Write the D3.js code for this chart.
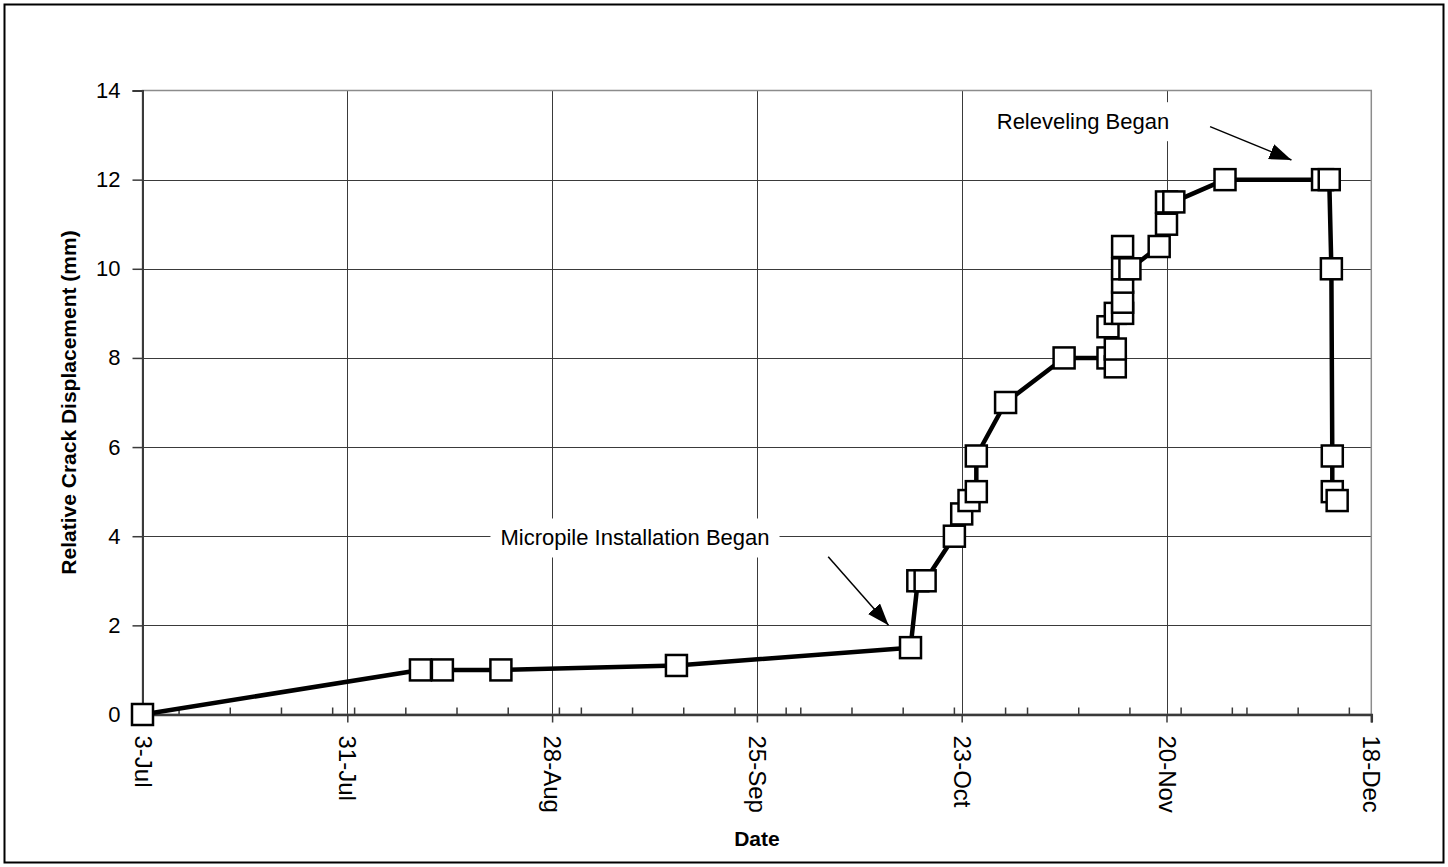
<!DOCTYPE html>
<html>
<head>
<meta charset="utf-8">
<script src="https://cdn.jsdelivr.net/npm/d3@7"></script>
<style>
    body { margin: 0; background: #fff; }
    svg { display: block; font-family: "Liberation Sans", Arial, sans-serif; }
</style>
</head>
<body>
<svg id="chart" width="1448" height="867"></svg>
<script>
// readings, in the order they were logged
var readDates = [
    "2001-07-03 00:00", "2001-08-10 00:00", "2001-08-13 00:00", "2001-08-21 00:00",
    "2001-09-14 00:00", "2001-10-16 00:00", "2001-10-17 00:00", "2001-10-18 00:00",
    "2001-10-22 00:00", "2001-10-23 00:00", "2001-10-24 00:00", "2001-10-25 00:00",
    "2001-10-25 00:00", "2001-10-29 00:00", "2001-11-06 00:00", "2001-11-12 00:00",
    "2001-11-13 00:00", "2001-11-13 00:00", "2001-11-12 00:00", "2001-11-13 00:00",
    "2001-11-14 00:00", "2001-11-14 00:00", "2001-11-14 00:00", "2001-11-14 00:00",
    "2001-11-14 00:00", "2001-11-15 00:00", "2001-11-19 00:00", "2001-11-20 00:00",
    "2001-11-20 00:00", "2001-11-21 00:00", "2001-11-28 00:00", "2001-12-11 08:00",
    "2001-12-12 06:00", "2001-12-12 13:00", "2001-12-12 16:00", "2001-12-12 16:00",
    "2001-12-13 08:00"
];
var crackMm = [
    0, 1.0, 1.0, 1.0,
    1.1, 1.5, 3.0, 3.0,
    4.0, 4.5, 4.8, 5.0,
    5.8, 7.0, 8.0, 8.0,
    7.8, 8.2, 8.7, 9.0,
    9.0, 9.25, 9.7, 10.0,
    10.5, 10.0, 10.5, 11.0,
    11.5, 11.5, 12.0, 12.0,
    12.0, 10.0, 5.8, 5.0,
    4.8
];

var xTickLabels = ["3-Jul", "31-Jul", "28-Aug", "25-Sep", "23-Oct", "20-Nov", "18-Dec"];
var yTicks = [0, 2, 4, 6, 8, 10, 12, 14];

var notes = [
    { text: "Micropile Installation Began", at: "2001-09-08 08:00", y: 3.96,
      from: "2001-10-04 18:00", fromY: 3.54, to: "2001-10-13 00:00", toY: 2.0 },
    { text: "Releveling Began", at: "2001-11-08 14:00", y: 13.3,
      from: "2001-11-25 23:00", fromY: 13.19, to: "2001-12-07 02:00", toY: 12.44 }
];

var parseTime = d3.utcParse("%Y-%m-%d %H:%M");
var parseTick = d3.utcParse("%d-%b-%Y");

var margin = { top: 90.5, right: 76.7, bottom: 152.5, left: 142.5 };
var svg = d3.select("#chart");
var width = +svg.attr("width"), height = +svg.attr("height");

var tickDates = xTickLabels.map(function(s) { return parseTick(s + "-2001"); });

var x = d3.scaleUtc()
    .domain([tickDates[0], tickDates[tickDates.length - 1]])
    .range([margin.left, width - margin.right]);
var y = d3.scaleLinear()
    .domain([0, 14])
    .range([height - margin.bottom, margin.top]);

var data = readDates.map(function(d, i) {
    return { date: parseTime(d), value: crackMm[i] };
});

// outer frame
svg.append("rect")
    .attr("x", 4.5).attr("y", 4.5)
    .attr("width", width - 9).attr("height", height - 9)
    .attr("fill", "none").attr("stroke", "#000").attr("stroke-width", 2);

// gridlines
var grid = svg.append("g").attr("stroke", "#3a3a3a").attr("stroke-width", 1);
grid.selectAll(".gx").data(tickDates.slice(1, -1)).enter().append("line")
    .attr("x1", function(d) { return Math.round(x(d)) + 0.5; })
    .attr("x2", function(d) { return Math.round(x(d)) + 0.5; })
    .attr("y1", y(14)).attr("y2", y(0));
grid.selectAll(".gy").data(yTicks.slice(1, -1)).enter().append("line")
    .attr("x1", x.range()[0]).attr("x2", x.range()[1])
    .attr("y1", function(d) { return Math.round(y(d)) + 0.5; })
    .attr("y2", function(d) { return Math.round(y(d)) + 0.5; });

// plot area border (top / right are grey)
svg.append("rect")
    .attr("x", x.range()[0]).attr("y", y(14))
    .attr("width", x.range()[1] - x.range()[0]).attr("height", y(0) - y(14))
    .attr("fill", "none").attr("stroke", "#8c8c8c").attr("stroke-width", 1.5);

// y axis
var yAxis = svg.append("g")
    .attr("transform", "translate(" + x.range()[0] + ",0)")
    .call(d3.axisLeft(y).tickValues(yTicks).tickSize(10).tickPadding(12));
yAxis.select(".domain").attr("stroke", "#3a3a3a").attr("stroke-width", 2);
yAxis.selectAll(".tick line").attr("stroke", "#3a3a3a").attr("stroke-width", 1.5);
yAxis.selectAll("text")
    .attr("font-size", 22).attr("fill", "#000")
    .attr("font-family", "'Liberation Sans', Arial, sans-serif");

// x axis
var xAxis = svg.append("g")
    .attr("transform", "translate(0," + y(0) + ")")
    .call(d3.axisBottom(x).tickValues(tickDates).tickSize(8)
        .tickFormat(function(d, i) { return xTickLabels[i]; }));
xAxis.select(".domain").attr("stroke", "#3a3a3a").attr("stroke-width", 2.5);
xAxis.selectAll(".tick line").attr("stroke", "#3a3a3a").attr("stroke-width", 1.5);
xAxis.selectAll("text")
    .attr("font-size", 24).attr("fill", "#000")
    .attr("font-family", "'Liberation Sans', Arial, sans-serif")
    .attr("transform", "rotate(90)")
    .attr("text-anchor", "start")
    .attr("x", 21).attr("y", 0).attr("dy", "0.35em");

// minor ticks every week, pointing into the plot
var minorDates = d3.utcDay.every(7).range(tickDates[0], tickDates[tickDates.length - 1])
    .filter(function(d) { return d3.utcDay.count(tickDates[0], d) % 28 !== 0; });
svg.append("g").selectAll("line").data(minorDates).enter().append("line")
    .attr("x1", function(d) { return x(d); })
    .attr("x2", function(d) { return x(d); })
    .attr("y1", y(0)).attr("y2", y(0) - 7)
    .attr("stroke", "#3a3a3a").attr("stroke-width", 1.5);

// axis titles
svg.append("text")
    .attr("transform", "translate(68," + ((y(0) + y(14)) / 2) + ") rotate(-90)")
    .attr("text-anchor", "middle").attr("dominant-baseline", "central")
    .attr("font-size", 21).attr("font-weight", "bold")
    .text("Relative Crack Displacement (mm)");
svg.append("text")
    .attr("x", (x.range()[0] + x.range()[1]) / 2).attr("y", 838)
    .attr("text-anchor", "middle").attr("dominant-baseline", "central")
    .attr("font-size", 21).attr("font-weight", "bold")
    .text("Date");

// series
var line = d3.line()
    .x(function(d) { return x(d.date); })
    .y(function(d) { return y(d.value); });

svg.append("path")
    .datum(data)
    .attr("fill", "none")
    .attr("stroke", "#000")
    .attr("stroke-width", 4.5)
    .attr("stroke-linejoin", "round")
    .attr("d", line);

var box = 21;
svg.append("g").selectAll("rect").data(data).enter().append("rect")
    .attr("x", function(d) { return x(d.date) - box / 2; })
    .attr("y", function(d) { return y(d.value) - box / 2; })
    .attr("width", box).attr("height", box)
    .attr("fill", "#fff").attr("stroke", "#000").attr("stroke-width", 2.5);

// annotations
svg.append("defs").append("marker")
    .attr("id", "head")
    .attr("markerUnits", "userSpaceOnUse")
    .attr("markerWidth", 24).attr("markerHeight", 18)
    .attr("refX", 22).attr("refY", 8)
    .attr("orient", "auto")
    .append("path").attr("d", "M0,0L22,8L0,16Z").attr("fill", "#000");

notes.forEach(function(n) {
    var g = svg.append("g");
    var bg = g.append("rect").attr("fill", "#fff");
    var t = g.append("text")
        .attr("x", x(parseTime(n.at))).attr("y", y(n.y))
        .attr("text-anchor", "middle").attr("dominant-baseline", "central")
        .attr("font-size", 22)
        .text(n.text);
    var bb = t.node().getBBox();
    bg.attr("x", bb.x - 10).attr("y", bb.y - 7)
        .attr("width", bb.width + 20).attr("height", bb.height + 14);
    svg.append("line")
        .attr("x1", x(parseTime(n.from))).attr("y1", y(n.fromY))
        .attr("x2", x(parseTime(n.to))).attr("y2", y(n.toY))
        .attr("stroke", "#000").attr("stroke-width", 1.5)
        .attr("marker-end", "url(#head)");
});
</script>
</body>
</html>
